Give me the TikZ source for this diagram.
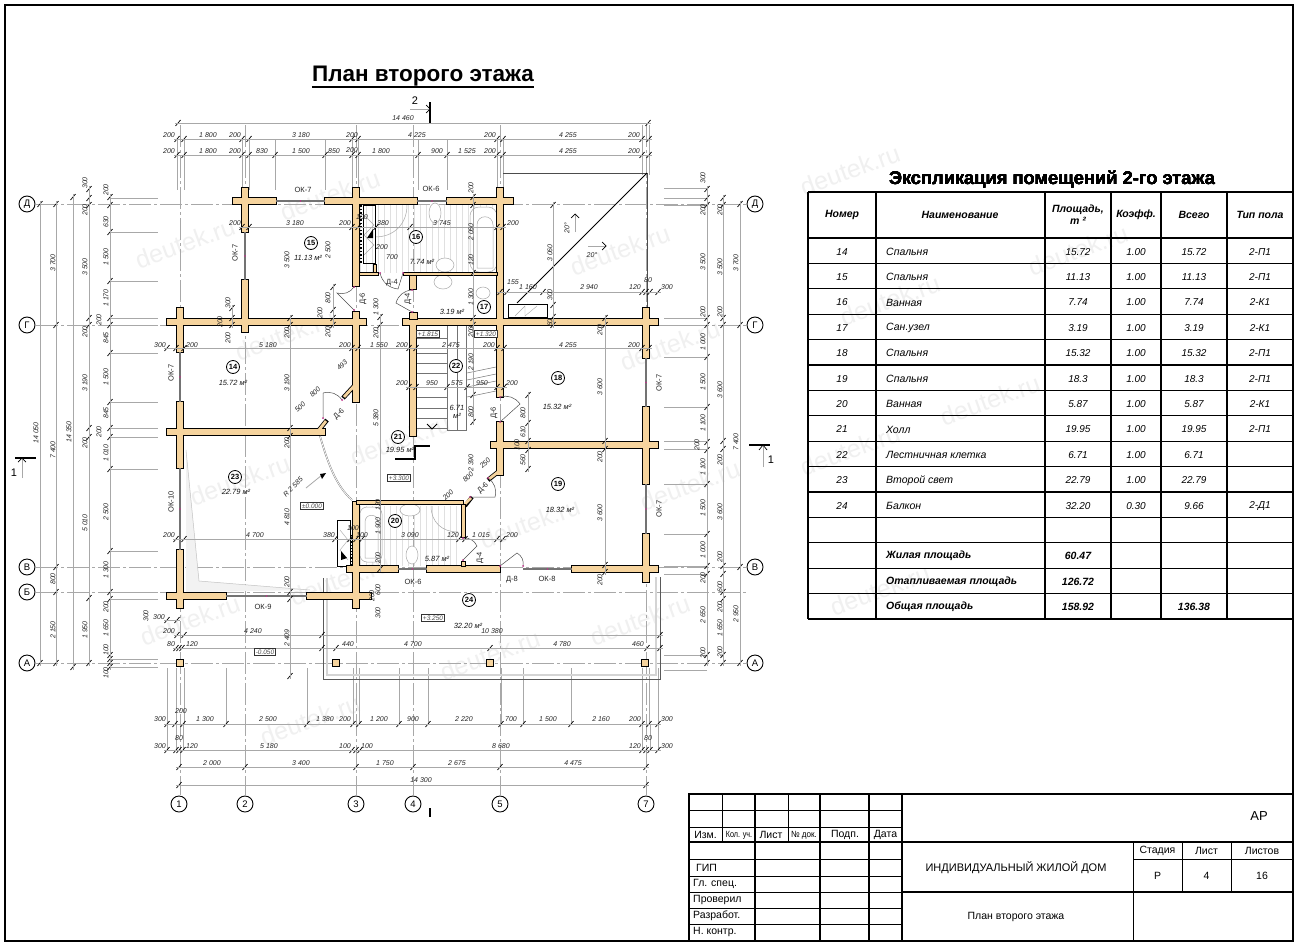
\documentclass[tikz,border=0pt]{standalone}
\usepackage{fontspec}
\setmainfont{Liberation Sans}
\usetikzlibrary{calc}
\definecolor{wallc}{HTML}{F6D49E}
\definecolor{linec}{gray}{0.66}
\definecolor{markc}{HTML}{C0308A}
\newcommand{\hchain}[2]{
    \foreach \t [count=\k] in {#2}{
        \ifnum\k=1 \xdef\firstt{\t}\fi
        \xdef\lastt{\t}
        \draw[tickline] (\t-2.5,#1+3) -- (\t+2.5,#1-3);
    }
    \draw[dimline] (\firstt-3,#1) -- (\lastt+3,#1);
}
\newcommand{\vchain}[2]{
    \foreach \t [count=\k] in {#2}{
        \ifnum\k=1 \xdef\firstt{\t}\fi
        \xdef\lastt{\t}
        \draw[tickline] (#1-2.5,\t+3) -- (#1+2.5,\t-3);
    }
    \draw[dimline] (#1,\firstt-3) -- (#1,\lastt+3);
}
\newcommand{\hlabels}[2]{\foreach \p/\s in {#2} \node[dimtext] at (\p,#1) {\s};}
\newcommand{\vlabels}[2]{\foreach \p/\s in {#2} \node[dimtext,rotate=90] at (#1,\p) {\s};}
\newcommand{\door}[4]{
    \draw[doorline] (#1) -- (#2) to[bend #4=35] (#3);
    \fill[markc] (#1) circle (1);
    \fill[markc] (#3) circle (1);
}
\newcommand{\bubble}[4]{\node[axisbub] (ax#1) at (#2,#3) {#4};}
\tikzset{
    dimline/.style={linec,line width=0.8},
    extline/.style={linec,line width=0.5},
    tickline/.style={black,line width=0.7},
    axisline/.style={linec,line width=0.7,dash pattern=on 22pt off 3pt on 3pt off 3pt},
    doorline/.style={black!70,line width=0.5},
    dimtext/.style={font=\fontsize{7}{8}\selectfont\itshape,inner sep=0pt,black!85},
    signtext/.style={font=\fontsize{7.5}{8}\selectfont,inner sep=0pt,black!85},
    roomno/.style={draw,circle,line width=0.8,inner sep=0pt,minimum size=13pt,font=\fontsize{7.5}{8}\selectfont\bfseries},
    areatext/.style={font=\fontsize{7.5}{8}\selectfont\itshape,inner sep=0pt,black!90},
    axisbub/.style={draw,circle,line width=0.9,fill=white,inner sep=0pt,minimum size=16pt,font=\fontsize{9.5}{10}\selectfont},
    levelbox/.style={draw=black!80,line width=0.7,fill=white,inner sep=1.5pt,font=\fontsize{6.5}{7}\selectfont\itshape,text=black!70},
    watermark/.style={font=\fontsize{25}{25}\selectfont,black!6,rotate=20,inner sep=0pt},
    fixture/.style={linec,line width=0.5,fill=white},
    tabletext/.style={font=\fontsize{10}{11}\selectfont\itshape,inner sep=0pt},
    tablename/.style={font=\fontsize{10.5}{11}\selectfont\itshape,inner sep=0pt,anchor=west},
    tablehead/.style={font=\fontsize{10.5}{12}\selectfont\bfseries\itshape,inner sep=0pt,align=center},
    stampcap/.style={font=\fontsize{10.5}{12}\selectfont,inner sep=0pt},
    windowline/.style={black!55,line width=2.4},
    cutline/.style={black,line width=1.6},
}
\def\wallsH{233/201/276,325/201/417,447/201/513,167/322/366,403/322/658,167/432/325,167/596/226,307/596/371,347/569/398,427/569/500,572/569/658,491/445/658}
\def\wallsV{245/188/232,245/280/332,356/188/286,356/312/402,180/308/352,180/402/468,180/550/608,646/308/358,646/407/484,646/534/582,500/188/397,500/422/475,413/322/436,356/502/608,413/273/289}
\begin{document}
\begin{tikzpicture}[x=1pt,y=-1pt]
                    \useasboundingbox (0,0) rectangle (1300,950);
                    \fill[white] (0,0) rectangle (1300,950);
                    \foreach \x/\y in {185/243,330/195,285/335,620/250,240/480,190/620,400/440,340/580,640/620,690/485,530/523,490/655,310/720,1078/250,890/300,990/400,850/450,670/345,850/170,880/590}
                        \node[watermark] at (\x,\y) {deutek.ru};
                    % frame and title
                    \draw[line width=2.6] (5,5) rectangle (1293,941);
                    \node[font=\fontsize{22.5}{24}\selectfont\bfseries,inner sep=0pt] (plantitle) at (423,76) {План второго этажа};
                    \draw[line width=1.5] ($(plantitle.south west)+(0,0.5)$) -- ($(plantitle.south east)+(0,0.5)$);
                    % axes
                    \foreach \y in {204,325,567,592,663} \draw[axisline] (36,\y) -- (746,\y);
                    \foreach \x in {180,245,356,413,500,646} \draw[axisline] (\x,125) -- (\x,795);
                    % extension lines
                    \foreach \x in {177,184,242,249,275,325,352,358,418,447,497,503} \draw[extline] (\x,139) -- (\x,190);
                    \foreach \x in {642,649} \draw[extline] (\x,125) -- (\x,175);
                    \foreach \y in {198,232,281,318,325,353,402,428,437,469,551,592,599,659,667} \draw[extline] (110,\y) -- (158,\y);
                    \foreach \y in {188,198,205,318,325,357,407,441,449,484,534,566,574,655,670} \draw[extline] (707,\y) -- (664,\y);
                    \foreach \x in {167,176,184,226,307,353,359,399,428,501,523,571,642,649,658} \draw[extline] (\x,724) -- (\x,668);
                    \foreach \x in {167,176,183,642,650,658} \draw[extline] (\x,750) -- (\x,724);
                    % balcony and roof
                    \draw[black!65,line width=1] (323,578) -- (323,679) -- (660,679) -- (660,577);
                    \draw[linec!50,line width=2.4] (327,578) -- (327,675) -- (656,675) -- (656,577);
                    \fill[black!5] (186,450) -- (199,581) -- (310,590) -- (186,592) -- cycle;
                    \draw[linec!70,line width=0.5] (186,450) -- (199,581) -- (310,590);
                    \draw[black!70,line width=1] (503,173) -- (647,173) -- (647,322);
                    \draw[black,line width=0.9] (647,173) -- (517,303);
                    \draw[fill=white,line width=0.8] (508,304) rectangle (547,317);
                    \draw[linec,line width=0.4] (515,316) -- (525,306) -- (525,316) -- (537,306);
                    % bathrooms
                    \begin{scope}
                        \clip (360,205) rectangle (497,272);
                        \draw[black!12,line width=0.3,step=6] (360,204) grid (500,275);
                    \end{scope}
                    \begin{scope}
                        \clip (360,506) rectangle (461,565);
                        \draw[black!12,line width=0.3,step=6] (360,504) grid (465,570);
                    \end{scope}
                    \draw[fixture,rounded corners=9] (470,207) rectangle (497,272);
                    \draw[fixture] (477,268) -- (477,225) .. controls (477,214) and (493,214) .. (493,225) -- (493,268) -- cycle;
                    \draw[fixture] (435,213) ellipse (6 and 10);
                    \draw[fixture] (445,265) ellipse (9 and 7);
                    \draw[fixture] (443,282) ellipse (9 and 7);
                    \draw[fixture] (483,293) ellipse (7 and 6);
                    \draw[fixture,fill=none] (407,205) .. controls (407,224) and (394,237) .. (375,237);
                    \draw[fixture,rounded corners=7] (360,507) rectangle (382,562);
                    \draw[fixture] (365,558) -- (365,522) .. controls (365,513) and (378,513) .. (378,522) -- (378,558) -- cycle;
                    \draw[fixture] (410,510) ellipse (10 and 6);
                    \draw[fixture] (412,555) ellipse (6 and 9);
                    \draw[fixture,fill=none] (431,506) .. controls (431,522) and (442,532) .. (458,532);
                    \draw[black,line width=0.7] (363,205) rectangle (375,263);
                    \draw[linec,line width=0.4] (364,215) -- (374,225) -- (364,235) -- (374,245) -- (364,255);
                    \draw[black,line width=1.5,dotted] (361,205) -- (361,263);
                    \fill (367,238) -- (373,229) -- (373,238) -- cycle;
                    \draw[black,line width=0.7] (337,520) rectangle (350,566);
                    \draw[linec,line width=0.4] (340,530) -- (348,540) -- (340,550) -- (348,560);
                    \fill (341,551) -- (347,558) -- (341,560) -- cycle;
                    \draw[black,line width=1.2,dotted] (352,535) -- (352,566);
                    % stairs
                    \foreach \y in {338,353,363,373,387,397,408,418,428} \draw[black!55,line width=0.5] (417,\y) -- (447,\y);
                    \foreach \x in {447,457} \draw[black!55,line width=0.5] (\x,326) -- (\x,430);
                    \draw[black!55,line width=0.5] (447,430) -- (466,430) -- (466,326);
                    \foreach \y in {373,380,387,397} \draw[black!55,line width=0.5] (467,\y) -- (496,\y-6);
                    \draw[black,line width=0.8] (427,424) -- (432,429) -- (437,424);
                    % walls
                    \foreach \a/\b/\c in \wallsH \fill[black] (\a-1,\b-4) rectangle (\c+1,\b+4);
                    \foreach \a/\b/\c in \wallsV \fill[black] (\a-4,\b-1) rectangle (\a+4,\c+1);
                    \draw[line width=4.5,black] (319,430) -- (327,420);
                    \draw[line width=4.5,black] (343,398) -- (355,385);
                    \draw[line width=4.5,black] (498,472) -- (488,480);
                    \draw[line width=4,black] (465,506) -- (472,497);
                    \foreach \a/\b/\c in \wallsH \fill[wallc] (\a,\b-3) rectangle (\c,\b+3);
                    \foreach \a/\b/\c in \wallsV \fill[wallc] (\a-3,\b) rectangle (\a+3,\c);
                    \draw[line width=2.8,wallc] (319,430) -- (326,421);
                    \draw[line width=2.8,wallc] (344,397) -- (355,385);
                    \draw[line width=2.8,wallc] (498,472) -- (489,479);
                    \draw[line width=2.6,wallc] (464,505) -- (471,498);
                    % thin partitions
                    \draw[black,fill=wallc,line width=0.7] (356,500) rectangle (463,504);
                    \draw[black,fill=wallc,line width=0.7] (461,504) rectangle (465,537);
                    \draw[black,fill=wallc,line width=0.7] (461,561) rectangle (465,566);
                    \draw[black,fill=wallc,line width=0.7] (403,272) rectangle (497,275);
                    \draw[black,fill=wallc,line width=0.7] (359,272) rectangle (378,275);
                    \draw[black,fill=wallc,line width=0.7] (373,264) rectangle (376,272);
                    \draw[black,fill=wallc,line width=0.7] (409,312) rectangle (417,319);
                    % windows
                    \foreach \a/\b/\c/\d in {276/201/325/201,417/201/447/201,245/232/245/280,180/352/180/402,180/468/180/550,226/596/307/596,398/569/427/569,523/569/572/569,646/358/646/407,646/484/646/534}{
                        \draw[windowline] (\a,\b) -- (\c,\d);
                        \fill[markc] ($(\a,\b)!0.5!(\c,\d)$) circle (0.8);
                    }
                    % columns
                    \foreach \x in {180,336,490,645} \draw[fill=wallc,line width=1] (\x-3.5,659.5) rectangle (\x+3.5,666.5);
                    % doors
                    \door{354,310}{337,293}{354,287}{right}
                    \door{403,273}{398,289}{380,273}{left}
                    \door{412,312}{396,303}{412,290}{left}
                    \door{323,418}{323,393}{342,400}{left}
                    \door{500,422}{520,404}{500,397}{right}
                    \door{470,497}{495,497}{488,478}{right}
                    \door{463,560}{477,546}{463,538}{right}
                    \door{500,566}{517,553}{523,566}{left}
                    \draw[black!50,line width=1.6] (320,436) .. controls (327,460) and (335,485) .. (352,500);
                    \draw[white,line width=0.7] (320,436) .. controls (327,460) and (335,485) .. (352,500);
                    % section marks
                    \draw[cutline] (395,459) -- (415,459) -- (415,446) -- (430,446);
                    \draw[cutline] (15,458) -- (36,458);
                    \draw[linec,line width=0.8] (22,478) -- (22,458);
                    \draw[black,line width=0.7] (18,462) -- (22,458) -- (26,462);
                    \node[font=\fontsize{11}{12}\selectfont,inner sep=0pt] (cutleft) at (14,473) {1};
                    \draw[cutline] (749,445) -- (770,445);
                    \draw[linec,line width=0.8] (763,467) -- (763,445);
                    \draw[black,line width=0.7] (759,450) -- (763,445) -- (767,450);
                    \node[font=\fontsize{11}{12}\selectfont,inner sep=0pt] (cutright) at (771,460) {1};
                    \draw[cutline] (430,102) -- (430,123);
                    \draw[linec,line width=0.8] (410,109) -- (430,109);
                    \draw[black,line width=0.7] (426,105) -- (430,109) -- (426,113);
                    \node[font=\fontsize{11}{12}\selectfont,inner sep=0pt] (cuttop) at (415,101) {2};
                    \draw[cutline] (430,808) -- (430,817);
                    % roof slope marks
                    \draw[linec,line width=0.6] (575,232) -- (575,214);
                    \draw[black,line width=0.7] (571,218) -- (575,214) -- (579,218);
                    \draw[linec,line width=0.6] (588,246) -- (606,246);
                    \draw[black,line width=0.7] (602,242) -- (606,246) -- (602,250);
                    \node[dimtext,rotate=90] at (567,228) {20°};
                    \node[dimtext] at (592,255) {20°};
                    % top dimensions
                    \hchain{123}{178,648}
                    \hchain{139}{177,184,242,249,352,358,497,503,642,649}
                    \hchain{155}{177,184,242,249,275,325,352,358,418,447,497,503,642,649}
                    \hlabels{118}{403/14 460}
                    \hlabels{135}{169/200,208/1 800,235/200,301/3 180,352/200,417/4 225,490/200,568/4 255,634/200}
                    \hlabels{151}{169/200,208/1 800,235/200,262/830,301/1 500,334/850,381/1 800,437/900,467/1 525,490/200,568/4 255,634/200}
                    \hlabels{150}{352/200}
                    % left dimensions
                    \vchain{40}{204,663}
                    \vchain{56}{204,325,567,592,663}
                    \vchain{73}{197,667}
                    \vchain{89}{189,198,205,318,325,428,437,598,663}
                    \vchain{110}{197,205,232,281,318,325,353,402,428,437,469,551,592,599,655,659,663,667}
                    \vlabels{36}{433/14 050}
                    \vlabels{53}{263/3 700,450/7 400,579/800,630/2 150}
                    \vlabels{69}{432/14 350}
                    \vlabels{85}{183/300,210/200,267/3 500,332/200,383/3 190,443/200,523/5 010,630/1 950}
                    \vlabels{106}{190/200,222/630,257/1 500,298/1 170,338/845,377/1 500,413/845,453/1 010,512/2 500,570/1 300,607/200,628/1 650,650/100,673/100}
                    \vlabels{99}{320/200,432/200}
                    % right dimensions
                    \vchain{707}{189,198,205,318,325,357,407,442,450,484,534,566,574,655,663}
                    \vchain{723}{198,205,318,325,441,449,566,574,592,599,655,663}
                    \vchain{740}{204,325,567,663}
                    \vlabels{703}{178/300,210/200,262/3 500,312/200,342/1 000,382/1 500,423/1 100,467/1 100,508/1 500,550/1 000,578/200,615/2 650,653/200}
                    \vlabels{697}{445/200}
                    \vlabels{720}{210/200,267/3 500,312/200,390/3 600,460/200,512/3 600,557/200,587/600,607/200,628/1 650,652/200}
                    \vlabels{736}{263/3 700,442/7 400,614/2 950}
                    % bottom dimensions
                    \hchain{724}{167,175,183,226,307,353,359,399,428,501,523,571,642,649,658}
                    \hchain{750}{167,176,179,183,352,356,360,642,646,650,658}
                    \hchain{767}{179,245,356,413,500,646}
                    \hchain{785}{179,646}
                    \hlabels{719}{160/300,205/1 300,268/2 500,325/1 380,345/200,379/1 200,413/900,464/2 220,511/700,548/1 500,601/2 160,635/200,667/300}
                    \hlabels{711}{181/200}
                    \hlabels{746}{160/300,192/120,269/5 180,345/100,367/100,501/8 680,635/120,667/300}
                    \hlabels{738}{179/80,648/80}
                    \hlabels{763}{212/2 000,301/3 400,385/1 750,457/2 675,573/4 475}
                    \hlabels{780}{421/14 300}
                    % inner dimensions
                    \hchain{227}{242,249,352,358,376,410,497,503}
                    \hchain{292}{500,507,543,642,646,650,658}
                    \hchain{348}{167,176,184,352,358,409,416,497,504,642,649}
                    \hchain{387}{409,416,447,467,497,504}
                    \hchain{539}{176,184,335,350,356,362,459,465,497,503}
                    \hchain{620}{167,177}
                    \hchain{635}{177,184,322,660}
                    \hchain{648}{176,179,182,322,336,490,647,660}
                    \vchain{290}{318,325,428,436,592,599,676}
                    \vchain{333}{287,310,318,325}
                    \vchain{232}{308,318,325}
                    \vchain{380}{317,325,569}
                    \vchain{473}{197,205,273,318,325,395,422}
                    \vchain{553}{205,305,317,325}
                    \vchain{528}{395,423,441,450,469}
                    \vchain{605}{318,325,441,449,565,572}
                    \hlabels{223}{235/200,295/3 180,345/200,383/380,442/3 745,513/200}
                    \hlabels{217}{362/100}
                    \hlabels{247}{382/200}
                    \hlabels{257}{392/700}
                    \hlabels{282}{513/155}
                    \hlabels{287}{528/1 160,589/2 940,635/120,667/300}
                    \hlabels{280}{648/80}
                    \hlabels{345}{160/300,192/200,268/5 180,345/200,379/1 550,402/200,451/2 475,489/200,568/4 255,634/200}
                    \hlabels{383}{402/200,432/950,457/575,482/950,512/200}
                    \hlabels{535}{169/200,255/4 700,329/380,362/100,410/3 090,453/120,481/1 015,512/200}
                    \hlabels{528}{353/100}
                    \hlabels{631}{169/200,253/4 240,492/10 380}
                    \hlabels{617}{159/300}
                    \hlabels{644}{171/80,192/120,348/440,413/4 700,562/4 780,638/460}
                    \vlabels{146}{616/300}
                    \vlabels{287}{260/3 500,333/200,383/3 190,443/200,517/4 810,582/200,638/2 409}
                    \vlabels{328}{250/2 500,298/800,332/200}
                    \vlabels{320}{313/200}
                    \vlabels{228}{303/300,338/200}
                    \vlabels{220}{322/200}
                    \vlabels{376}{307/1 300,333/200,418/5 380}
                    \vlabels{471}{188/200,232/2 060,260/120,297/1 300,332/200,362/2 190,412/800,463/2 390}
                    \vlabels{550}{253/3 060,295/300,323/60}
                    \vlabels{523}{413/800,432/610,460/560}
                    \vlabels{517}{445/100}
                    \vlabels{600}{330/200,387/3 600,457/200,513/3 600,580/200}
                    \vlabels{378}{505/120,526/1 900,558/200,590/600}
                    \vlabels{372}{596/200}
                    \vlabels{378}{613/300}
                    \foreach \x/\y/\a/\s in {448/495/45/200,468/477/45/800,485/463/45/250,300/407/45/500,315/392/45/800,342/365/45/493,293/487/45/R 2 585}
                        \node[dimtext,rotate=\a] at (\x,\y) {\s};
                    \draw[dimline] (322,475) -- (306,488);
                    \fill (326,473) -- (320,474) -- (322,479) -- cycle;
                    % rooms
                    \foreach \n/\x/\y/\u/\v/\s in {14/233/367/233/383/15.72,15/311/243/308/258/11.13,16/416/237/422/262/7.74,17/484/307/452/312/3.19,18/558/378/557/407/15.32,19/558/484/560/510/18.32,21/398/437/400/450/19.95,23/235/477/236/492/22.79,20/395/521/437/559/5.87,24/469/600/468/626/32.20}{
                        \node[roomno,fill=white] (room\n) at (\x,\y) {\n};
                        \node[areatext] (area\n) at (\u,\v) {\s{} м²};
                    }
                    \node[roomno,fill=white] (room22) at (456,366) {22};
                    \node[areatext,align=center] (area22) at (457,412) {6.71\\м²};
                    % levels
                    \foreach \x/\y/\s in {428/334/+1.815,486/334/+1.320,399/478/+3.300,312/506/±0.000,433/618/+3.250,265/652/-0.050}
                        \node[levelbox] at (\x,\y) {\s};
                    % door and window marks
                    \foreach \x/\y/\a/\s in {363/299/90/Д-6,392/283/0/Д-4,408/299/90/Д-4,339/414/45/Д-6,494/413/90/Д-6,483/488/45/Д-6,480/558/90/Д-4,512/580/0/Д-8,413/582/0/ОК-6,547/579/0/ОК-8,659/509/90/ОК-7,659/383/90/ОК-7,263/607/0/ОК-9,171/502/90/ОК-10,235/253/90/ОК-7,171/373/90/ОК-7,303/190/0/ОК-7,431/189/0/ОК-6}
                        \node[signtext,rotate=\a] at (\x,\y) {\s};
                    % grid bubbles
                    \bubble{LD}{27}{204}{Д}
                    \bubble{LG}{27}{325}{Г}
                    \bubble{LV}{27}{567}{В}
                    \bubble{LB}{27}{592}{Б}
                    \bubble{LA}{27}{663}{А}
                    \bubble{RD}{755}{204}{Д}
                    \bubble{RG}{755}{325}{Г}
                    \bubble{RV}{755}{567}{В}
                    \bubble{RA}{755}{663}{А}
                    \foreach \n/\x in {1/179,2/245,3/356,4/413,5/500,7/646} \bubble{\n}{\x}{804}{\n}
                    % table
                    \node[font=\fontsize{18.3}{20}\selectfont\bfseries,inner sep=0pt] (tabletitle) at (1052,180) {Экспликация помещений 2-го этажа};
                    \foreach \y in {192,238,263.4,288.8,314.2,339.6,365,390.4,415.8,441.2,466.6,492,517.4,542.8,568.2,593.6,619} \draw[line width=1.2] (808,\y) -- (1293,\y);
                    \foreach \x in {808,876,1045,1111,1161,1227,1293} \draw[line width=1.2] (\x,192) -- (\x,619);
                    \node[tablehead] at (842,215) {Номер};
                    \node[tablehead] at (960,215) {Наименование};
                    \node[tablehead] at (1078,215) {Площадь,\\m ²};
                    \node[tablehead] at (1136,215) {Коэфф.};
                    \node[tablehead] at (1194,215) {Всего};
                    \node[tablehead] at (1260,215) {Тип пола};
                    \foreach \n/\s/\a/\b/\c/\d [count=\r] in {14/Спальня/15.72/1.00/15.72/2-П1,15/Спальня/11.13/1.00/11.13/2-П1,16/Ванная/7.74/1.00/7.74/2-К1,17/Сан.узел/3.19/1.00/3.19/2-К1,18/Спальня/15.32/1.00/15.32/2-П1,19/Спальня/18.3/1.00/18.3/2-П1,20/Ванная/5.87/1.00/5.87/2-К1,21/Холл/19.95/1.00/19.95/2-П1,22/Лестничная клетка/6.71/1.00/6.71/{},23/Второй свет/22.79/1.00/22.79/{},24/Балкон/32.20/0.30/9.66/2-Д1}{
                        \node[tabletext] at (842,{239+25.4*(\r-0.5)}) {\n};
                        \node[tablename] at (886,{239+25.4*(\r-0.5)}) {\s};
                        \node[tabletext] at (1078,{239+25.4*(\r-0.5)}) {\a};
                        \node[tabletext] at (1136,{239+25.4*(\r-0.5)}) {\b};
                        \node[tabletext] at (1194,{239+25.4*(\r-0.5)}) {\c};
                        \node[tabletext] at (1260,{239+25.4*(\r-0.5)}) {\d};
                    }
                    \foreach \s/\a/\y in {Жилая площадь/60.47/556,Отапливаемая площадь/126.72/581.4,Общая площадь/158.92/606.8}{
                        \node[tablehead,anchor=west] at (886,\y) {\s};
                        \node[tablehead] at (1078,\y) {\a};
                    }
                    \node[tablehead] at (1194,606.8) {136.38};
                    % stamp
                    \draw[line width=1.6] (689,794) rectangle (1293,941);
                    \foreach \x in {755,820,869,902} \draw[line width=1.2] (\x,794) -- (\x,941);
                    \foreach \x in {722,788} \draw[line width=0.8] (\x,794) -- (\x,842);
                    \foreach \y in {810,827,859,876,892,908,924} \draw[line width=0.7] (689,\y) -- (902,\y);
                    \draw[line width=1.2] (689,842) -- (1293,842);
                    \draw[line width=1.2] (902,892) -- (1293,892);
                    \draw[line width=1] (1133,842) -- (1133,941);
                    \draw[line width=1] (1133,859) -- (1293,859);
                    \foreach \x in {1182,1231} \draw[line width=1] (\x,842) -- (\x,892);
                    \foreach \x/\s in {705.5/Изм.,771/Лист,845/Подп.,885.5/Дата} \node[stampcap] at (\x,835) {\s};
                    \node[font=\fontsize{9}{10}\selectfont,inner sep=0pt] at (739,835) {\scalebox{0.8}[1]{Кол. уч.}};
                    \node[font=\fontsize{9}{10}\selectfont,inner sep=0pt] at (804,835) {\scalebox{0.9}[1]{№ док.}};
                    \node[stampcap,anchor=west] at (696,868) {ГИП};
                    \foreach \y/\s in {884/Гл. спец.,900/Проверил,916/Разработ.,932/Н. контр.} \node[stampcap,anchor=west] at (693,\y) {\s};
                    \node[font=\fontsize{13}{14}\selectfont,inner sep=0pt] (stampcode) at (1259,816) {АР};
                    \node[font=\fontsize{11}{12}\selectfont,inner sep=0pt] (stampname) at (1016,868) {ИНДИВИДУАЛЬНЫЙ ЖИЛОЙ ДОМ};
                    \node[stampcap] (stampsheet) at (1016,917) {План второго этажа};
                    \foreach \x/\s/\v in {1157.5/Стадия/Р,1206.5/Лист/4,1262/Листов/16}{
                        \node[stampcap] at (\x,851) {\s};
                        \node[stampcap] at (\x,876) {\v};
                    }
                \end{tikzpicture}
\end{document}
